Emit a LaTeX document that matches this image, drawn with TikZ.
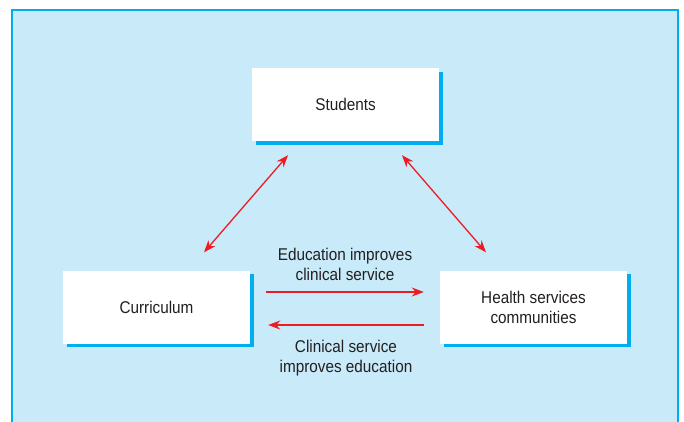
\documentclass[tikz,border=0pt]{standalone}
\usepackage{fontspec}
\setmainfont{Liberation Sans}[FakeStretch=0.9]
\usepackage{tikz}
\usetikzlibrary{arrows.meta, positioning, shadows, calc}
\usepackage{xcolor}
\definecolor{panel}{RGB}{200,234,249}
\definecolor{rim}{RGB}{0,174,239}
\definecolor{arrowred}{RGB}{237,28,36}
\definecolor{ink}{RGB}{35,31,32}

\begin{document}
\begin{tikzpicture}[x=1pt,y=-1pt,node distance=1cm,on grid]
    \tikzstyle{box}=[shape=rectangle,fill=white,minimum width=187pt,minimum height=73pt,
        align=center,font=\fontsize{17}{20}\selectfont,text=ink,
        drop shadow={shadow xshift=3.5pt,shadow yshift=-3.5pt,fill=rim,opacity=1}]
    \tikzstyle{link}=[draw=arrowred,line width=1.3pt,{Stealth[length=12pt,width=9pt]}-{Stealth[length=12pt,width=9pt]}]
    \tikzstyle{flow}=[draw=arrowred,line width=1.3pt,-{Stealth[length=12pt,width=9pt]}]
    \tikzstyle{lbl}=[align=center,font=\fontsize{17}{20}\selectfont,text=ink,inner sep=0pt]

    \useasboundingbox (0,0) rectangle (684,421);
    \begin{scope}
    \clip (0,0) rectangle (684,421);
    \draw[fill=panel,draw=rim,line width=1.6pt] (12,10) rectangle (678,440);
    \end{scope}

    \node[box] (stu) at (345.5,104.5) {Students};
    \node[box, below left=202.5pt and 189pt of stu] (cur) {Curriculum};
    \node[box, right=377pt of cur] (hea) {Health services\\communities};

    \path[link]
    ($(stu.south)+(-57.5,14)$) -- ($(cur.north)+(47.5,-18)$);
    \path[link]
    ($(stu.south)+(56.5,14)$) -- ($(hea.north)+(-47.5,-18)$);

    \path[flow]
    ($(cur.east)+(16,-15)$) -- node[lbl, above=11pt] {Education improves\\clinical service}
    ($(hea.west)+(-16,-15)$);
    \path[flow]
    ($(hea.west)+(-16,18)$) -- node[lbl, below=15pt] {Clinical service\\improves education}
    ($(cur.east)+(18,18)$);
\end{tikzpicture}
\end{document}
